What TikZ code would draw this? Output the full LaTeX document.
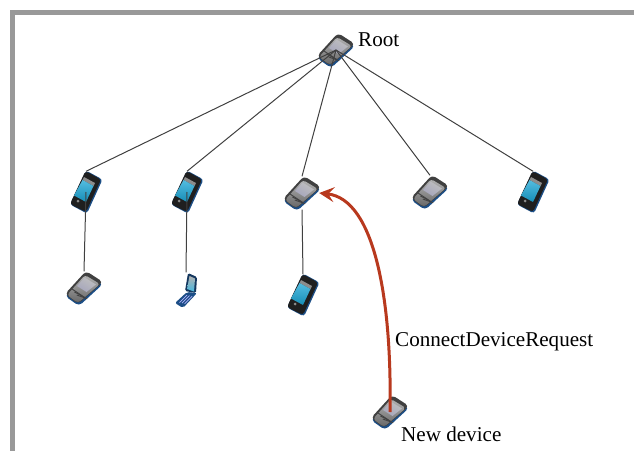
\documentclass[tikz,border=0pt]{standalone}
\usepackage{fontspec}
\setmainfont{Liberation Serif}
\usepackage{xcolor}
\usetikzlibrary{arrows.meta}
\definecolor{framegray}{HTML}{999999}
\definecolor{arrowred}{HTML}{B8391E}
\definecolor{phonenavy}{HTML}{1C4E86}
\definecolor{screencyan}{HTML}{1AA6D6}
\tikzset{
	qwerty/.style={minimum width=34pt, minimum height=33pt, inner sep=0pt},
	touch/.style={minimum width=32pt, minimum height=41pt, inner sep=0pt},
	flip/.style={minimum width=22pt, minimum height=35pt, inner sep=0pt},
	txt/.style={anchor=base west, inner sep=0pt, font=\fontsize{21.1}{24}\selectfont},
	link/.style={draw=black!75, line width=1pt},
	qwertyphone/.pic={
		\fill[phonenavy, rounded corners=4pt] (2,14) -- (19,4) -- (-5,-18) -- (-19,-8) -- cycle;
		\fill[black!75, rounded corners=4pt] (2,17) -- (19,6) -- (-6,-16) -- (-19,-6) -- cycle;
		\shade[top color=black!30, bottom color=black!60, rounded corners=3pt] (1,13) -- (16,4) -- (-6,-15) -- (-17,-7) -- cycle;
		\shade[top color=black!25, bottom color=blue!25!black!35, shading angle=-30] (0.5,10.5) -- (12,3.5) -- (2.5,-4) -- (-7,2) -- cycle;
		\foreach \k in {0,1,2}
			\draw[black!75, line width=0.9pt] (-12+\k*2.4,-1-\k*3) -- (-1.5+\k*2.4,-8-\k*1.4);
	},
	touchphone/.pic={
		\fill[phonenavy, rounded corners=3pt] (0,21.5) -- (16.5,12.5) -- (1,-21.5) -- (-16,-12.5) -- cycle;
		\fill[black!88, rounded corners=3pt] (-0.5,21) -- (15,12.5) -- (0,-20) -- (-16,-12) -- cycle;
		\fill[black!45] (-2,15) -- (9,9) -- (7.5,6) -- (-3.5,12) -- cycle;
		\shade[top color=screencyan!75!white, bottom color=screencyan!85!black] (-3.5,12) -- (7.5,6) -- (0,-10) -- (-12,-3.5) -- cycle;
		\fill[black!45] (-8,-9) circle (1.5pt);
	},
	flipphone/.pic={
		\fill[phonenavy!70!black, rounded corners=1.5pt] (-1,-1) -- (2,17) -- (11,13) -- (10,-3) -- cycle;
		\shade[top color=black!30, bottom color=screencyan!80!white] (1,1) -- (3.5,14) -- (9,11.5) -- (8,-1.5) -- cycle;
		\fill[phonenavy, rounded corners=2pt] (1,-2) -- (11,-3) -- (-3,-18) -- (-11,-13) -- cycle;
		\foreach \k in {0,1,2}
			\draw[blue!30!white, line width=0.7pt] (-6.5+\k*2.6,-12.5-\k*0.6) -- (1+\k*2.6,-5-\k*0.6);
	}
}

\begin{document}
\begin{tikzpicture}[x=1pt, y=1pt, node distance=101pt]
	\useasboundingbox (0,0) rectangle (634,451);
	\fill[framegray] (10,441) rectangle (634,436);
	\fill[framegray] (10,441) rectangle (15,0);

	\node[qwerty] (R) at (336,401) {};
	\node[touch] (1) at (86,259) {};
	\node[touch] (2) [right of=1] {};
	\node[qwerty] (3) at (302,258) {};
	\node[qwerty] (4) at (430,259) {};
	\node[touch] (5) at (533,259) {};
	\node[qwerty] (6) at (84,163) {};
	\node[flip] (7) at (186,161) {};
	\node[touch] (8) at (303,156) {};
	\node[qwerty] (N) at (390,39) {};

	\foreach \n in {R,3,4,6,N} \pic at (\n) {qwertyphone};
	\foreach \n in {1,2,5,8} \pic at (\n) {touchphone};
	\pic at (7) {flipphone};

	\draw[link] (R.center) -- (1.north);
	\draw[link] (R.center) -- (2.north);
	\draw[link] (R.center) -- (3.north);
	\draw[link] (R.center) -- (4.north);
	\draw[link] (R.center) -- (5.north);
	\draw[link] (1.center) -- (6.north);
	\draw[link] (2.center) -- (7.north);
	\draw[link] (3.south) -- (8.north);
	\draw[arrowred, line width=3pt, -{Stealth[length=15pt, width=15pt, inset=6pt]}] (N.center) .. controls (392,150) and (375,252) .. (3.east);

	\node[txt] (rootlabel) at (358,404) {Root};
	\node[txt] (requestlabel) at (395,105) {ConnectDeviceRequest};
	\node[txt] (newlabel) at (401,10) {New device};
\end{tikzpicture}
\end{document}
